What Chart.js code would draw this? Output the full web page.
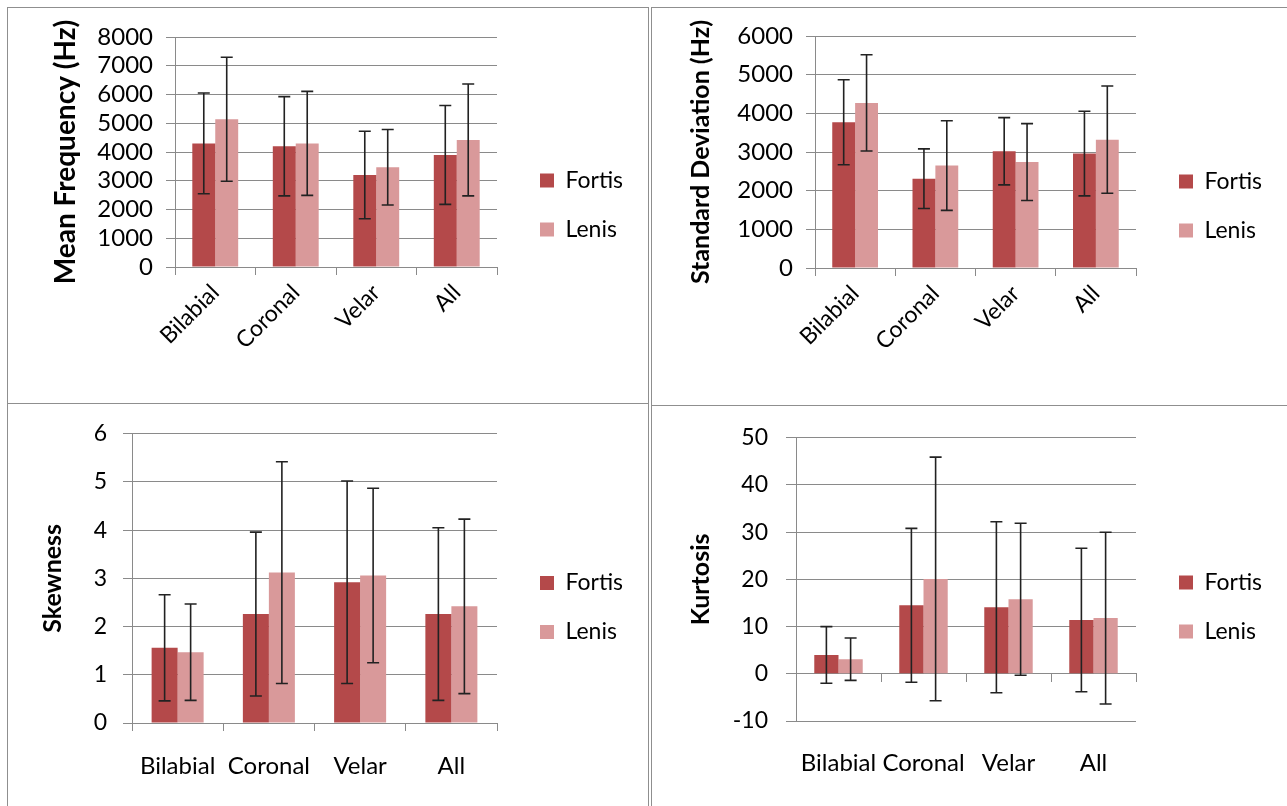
<!DOCTYPE html>
<html>
<head>
<meta charset="utf-8">
<script src="https://cdn.jsdelivr.net/npm/chart.js@4.4.1/dist/chart.umd.min.js"></script>
<style>
body { margin: 0; background: #fff; width: 1287px; height: 806px; overflow: hidden; position: relative; }
.panel { position: absolute; border: 1px solid #8f8f8f; box-sizing: border-box; }
canvas { position: absolute; }
</style>
</head>
<body>
<div class="panel" style="left:7px;top:7px;width:642px;height:397px"></div>
<div class="panel" style="left:7px;top:403px;width:642px;height:420px"></div>
<div class="panel" style="left:651px;top:7px;width:650px;height:399px"></div>
<div class="panel" style="left:651px;top:405px;width:650px;height:420px"></div>
<canvas id="chart-mean" width="640" height="395" style="left:8px;top:8px"></canvas>
<canvas id="chart-sd" width="635" height="397" style="left:652px;top:8px"></canvas>
<canvas id="chart-skew" width="640" height="402" style="left:8px;top:404px"></canvas>
<canvas id="chart-kurt" width="635" height="400" style="left:652px;top:406px"></canvas>
<script>
const categories = ['Bilabial', 'Coronal', 'Velar', 'All'];
const seriesNames = ['Fortis', 'Lenis'];

const meanFortis = [4300, 4200, 3200, 3900];
const meanFortisErr = [1750, 1725, 1520, 1720];
const meanLenis = [5140, 4300, 3470, 4420];
const meanLenisErr = [2155, 1810, 1315, 1945];

const sdFortis = [3770, 2310, 3020, 2960];
const sdFortisErr = [1100, 770, 870, 1095];
const sdLenis = [4270, 2650, 2740, 3320];
const sdLenisErr = [1245, 1160, 995, 1385];

const skewFortis = [1.56, 2.26, 2.92, 2.26];
const skewFortisErr = [1.1, 1.7, 2.1, 1.79];
const skewLenis = [1.47, 3.12, 3.06, 2.42];
const skewLenisErr = [1.0, 2.3, 1.81, 1.81];

const kurtFortis = [4.0, 14.5, 14.1, 11.4];
const kurtFortisErr = [6.0, 16.3, 18.1, 15.2];
const kurtLenis = [3.1, 20.1, 15.8, 11.8];
const kurtLenisErr = [4.5, 25.8, 16.1, 18.2];

const fortisColor = '#b4494a';
const lenisColor = '#d9999a';
const gridColor = '#8a8a8a';
const font = 'Lato';

Chart.defaults.color = '#000';
Chart.defaults.font.family = font;
Chart.defaults.animation = false;

// draws the +/- error whiskers on top of every bar
const errorBars = {
    id: 'errorBars',
    afterDatasetsDraw(chart) {
        const ctx = chart.ctx;
        const y = chart.scales.y;
        ctx.save();
        ctx.strokeStyle = '#222';
        ctx.lineWidth = 1.6;
        chart.data.datasets.forEach((ds, i) => {
            chart.getDatasetMeta(i).data.forEach((bar, j) => {
                const top = y.getPixelForValue(ds.data[j] + ds.errors[j]);
                const bot = y.getPixelForValue(ds.data[j] - ds.errors[j]);
                ctx.beginPath();
                ctx.moveTo(bar.x, top); ctx.lineTo(bar.x, bot);
                ctx.moveTo(bar.x - 6, top); ctx.lineTo(bar.x + 6, top);
                ctx.moveTo(bar.x - 6, bot); ctx.lineTo(bar.x + 6, bot);
                ctx.stroke();
            });
        });
        ctx.restore();
    }
};

const makeChart = (id, p) => {
    const scales = {
        x: {
            offset: true,
            grid: { display: !p.zeroAxis, drawOnChartArea: false, offset: true, tickLength: 8, color: gridColor },
            border: { display: !p.zeroAxis, color: gridColor },
            ticks: {
                autoSkip: false,
                maxRotation: p.rotate, minRotation: p.rotate,
                padding: p.labelPad,
                font: { size: p.labelSize }
            },
            afterFit: s => { s.height = p.xHeight; }
        },
        y: {
            min: p.min, max: p.max,
            grid: { color: gridColor, tickLength: p.tickLen },
            border: { color: gridColor },
            ticks: {
                stepSize: p.step, autoSkip: false, padding: p.tickPad,
                font: { size: p.tickSize },
                callback: v => String(v)
            },
            title: {
                display: true, text: p.title, padding: { top: p.titlePad, bottom: 0 },
                font: { size: p.titleSize, weight: 'bold' }
            },
            afterFit: s => { s.width = p.left; }
        },
        gap: {
            type: 'linear', position: 'right',
            grid: { display: false }, border: { display: false }, ticks: { display: false },
            afterFit: s => { s.width = 17; }
        }
    };
    if (p.zeroAxis) {
        scales.x0 = {
            type: 'category', position: { y: 0 }, offset: true,
            grid: { drawOnChartArea: false, offset: true, tickLength: 8, color: gridColor },
            border: { color: gridColor },
            ticks: { display: false }
        };
    }
    const chart = new Chart(document.getElementById(id), {
        type: 'bar',
        plugins: [errorBars],
        data: {
            labels: categories,
            datasets: [
                { label: seriesNames[0], data: p.fortis, errors: p.fortisErr, backgroundColor: fortisColor },
                { label: seriesNames[1], data: p.lenis, errors: p.lenisErr, backgroundColor: lenisColor }
            ]
        },
        options: {
            responsive: false,
            categoryPercentage: 0.57,
            barPercentage: 1,
            layout: { padding: { top: p.top, bottom: p.bottom, left: 0, right: 10 } },
            scales,
            plugins: {
                legend: {
                    position: 'right',
                    maxWidth: 300,
                    labels: { boxWidth: 14, boxHeight: 14, padding: 26, font: { size: p.legendSize } }
                },
                tooltip: { enabled: false }
            }
        }
    });
    // nudge the right padding so the plot ends where the reference plot ends
    let right = 10;
    for (let k = 0; k < 2; k++) {
        right += chart.chartArea.right - p.right;
        chart.options.layout.padding = { top: p.top, bottom: p.bottom, left: 0, right };
        chart.update();
    }
    return chart;
};

const charts = [];

charts.push(makeChart('chart-mean', {
    fortis: meanFortis, fortisErr: meanFortisErr, lenis: meanLenis, lenisErr: meanLenisErr,
    min: 0, max: 8000, step: 1000, title: 'Mean Frequency (Hz)',
    left: 167, right: 489, top: 29, bottom: 30, xHeight: 106,
    rotate: 45, labelPad: 4, labelSize: 23, tickSize: 24, tickLen: 9, tickPad: 13,
    titleSize: 28, titlePad: 41, legendSize: 23
}));

charts.push(makeChart('chart-sd', {
    fortis: sdFortis, fortisErr: sdFortisErr, lenis: sdLenis, lenisErr: sdLenisErr,
    min: 0, max: 6000, step: 1000, title: 'Standard Deviation (Hz)',
    left: 163, right: 484, top: 28, bottom: 29, xHeight: 108,
    rotate: 45, labelPad: 4, labelSize: 23, tickSize: 24, tickLen: 9, tickPad: 13,
    titleSize: 25, titlePad: 34, legendSize: 23
}));

charts.push(makeChart('chart-skew', {
    fortis: skewFortis, fortisErr: skewFortisErr, lenis: skewLenis, lenisErr: skewLenisErr,
    min: 0, max: 6, step: 1, title: 'Skewness',
    left: 124, right: 489, top: 29, bottom: 24, xHeight: 59,
    rotate: 0, labelPad: 21, labelSize: 24, tickSize: 23, tickLen: 9, tickPad: 16,
    titleSize: 25, titlePad: 30, legendSize: 23
}));

charts.push(makeChart('chart-kurt', {
    fortis: kurtFortis, fortisErr: kurtFortisErr, lenis: kurtLenis, lenisErr: kurtLenisErr,
    min: -10, max: 50, step: 10, title: 'Kurtosis', zeroAxis: true,
    left: 144, right: 484, top: 28, bottom: 26, xHeight: 59,
    rotate: 0, labelPad: 20, labelSize: 24, tickSize: 23, tickLen: 10, tickPad: 18,
    titleSize: 25, titlePad: 34, legendSize: 23
}));
</script>
</body>
</html>
